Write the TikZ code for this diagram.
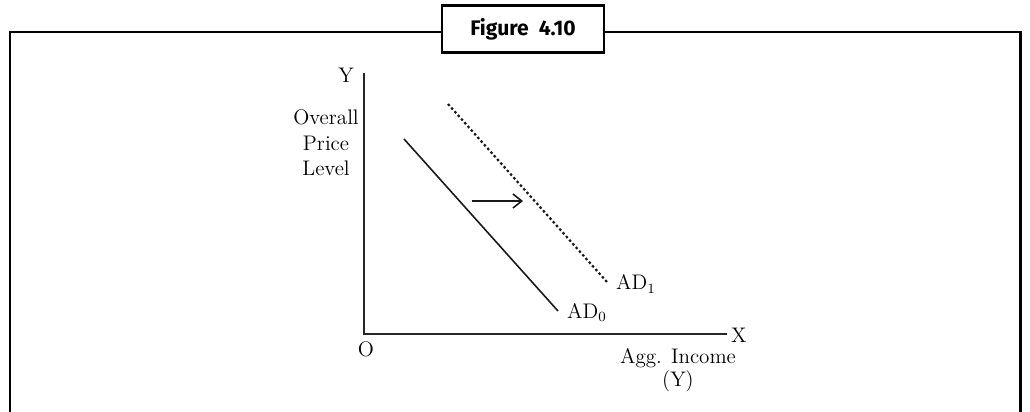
\documentclass[tikz,border=0pt]{standalone}
\usepackage{fontspec}
\newfontfamily\titlefont{Fira Sans}
\usetikzlibrary{arrows.meta,positioning}

\begin{document}
\begin{tikzpicture}[x=0.02cm,y=-0.02cm,
  frame/.style={draw=black,line width=1.7pt},
  ttl/.style={draw=black,line width=1.3pt,minimum width=3.24cm,minimum height=0.94cm,inner sep=0pt,font=\titlefont\bfseries\fontsize{12}{14}\selectfont},
  ax/.style={draw=black!85,line width=1.1pt},
  cur/.style={draw=black!90,line width=0.9pt},
  sft/.style={cur,line width=1.25pt,dash pattern=on 1.4pt off 1.4pt},
  lab/.style={font=\fontsize{12}{14}\selectfont,inner sep=1pt}]
  \useasboundingbox (0,0) rectangle (1030,412);
  % frame with title box
  \node[ttl,fill=white] (title) at (523,29) {Figure\ \ 4.10};
  \coordinate (fl) at (10,32); \coordinate (fr) at (1020,32);
  \coordinate (bl) at (10,412); \coordinate (br) at (1020,412);
  \draw[frame] (title.west |- fl) -- (fl) -- (bl);
  \draw[frame] (title.east |- fr) -- (fr) -- (br);
  % axes
  \coordinate (o) at (364,334); \coordinate (ytop) at (364,73); \coordinate (xend) at (727,334);
  \draw[ax] (ytop) -- (o) -- (xend);
  \node[lab,anchor=east] (ylab) at (356,75) {Y};
  \node[lab,anchor=west] (xlab) at (729,335) {X};
  \node[lab] (olab) at (366,349) {O};
  \node[lab,align=center,font=\fontsize{12}{14.5}\selectfont] (pl) at (326,143) {Overall\\Price\\Level};
  \node[lab,align=center,font=\fontsize{12}{13.5}\selectfont] (inc) at (678,370) {Agg. Income\\(Y)};
  % demand curves
  \coordinate (a0) at (404,139); \coordinate (b0) at (558,311);
  \coordinate (a1) at (448,104); \coordinate (b1) at (607,282);
  \draw[cur] (a0) -- (b0);
  \draw[sft] (a1) -- (b1);
  \node[lab,anchor=west] (ad0) at (565,313) {AD\textsubscript{0}};
  \node[lab,anchor=west] (ad1) at (614,284) {AD\textsubscript{1}};
  % shift
  \coordinate (s0) at (472,201); \coordinate (s1) at (523,201);
  \draw[cur,-{Straight Barb[length=5pt,width=8pt]}] (s0) -- (s1);
\end{tikzpicture}
\end{document}
